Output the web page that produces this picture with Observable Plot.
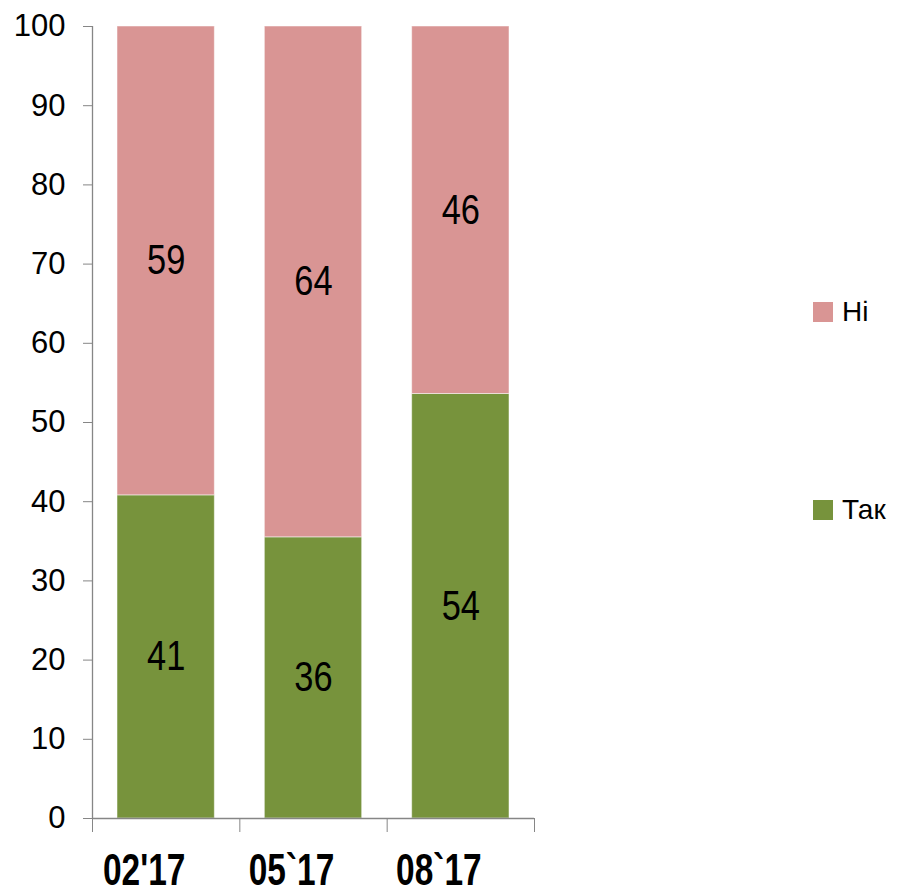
<!DOCTYPE html>
<html>
<head>
<meta charset="utf-8">
<script src="https://cdn.jsdelivr.net/npm/d3@7"></script>
<script src="https://cdn.jsdelivr.net/npm/@observablehq/plot@0.6"></script>
<style>
  html, body { margin: 0; padding: 0; background: #fff; }
  #wrap { position: relative; width: 897px; height: 895px; overflow: hidden; }
  .leg { position: absolute; display: flex; align-items: center; font-family: "Liberation Sans", Arial, sans-serif; font-size: 28px; color: #000; }
  .leg i { display: inline-block; width: 20px; height: 20px; margin-right: 9px; }
</style>
</head>
<body>
<div id="wrap"></div>
<script>
const categories = ["02'17", "05`17", "08`17"];
const seriesNames = ["Так", "Ні"];
const seriesColors = ["#77933C", "#D99594"];
const takValues = [40.8, 35.5, 53.6];
const niValues = [59.2, 64.5, 46.4];
const takLabels = ["41", "36", "54"];
const niLabels = ["59", "64", "46"];
const yTicks = [0, 10, 20, 30, 40, 50, 60, 70, 80, 90, 100];
const xBoundaries = [0, 1, 2, 3];

const rows = [];
categories.forEach((c, i) => {
  rows.push({i, cat: c, series: "Так", y1: 0, y2: takValues[i], label: takLabels[i]});
  rows.push({i, cat: c, series: "Ні", y1: takValues[i], y2: takValues[i] + niValues[i], label: niLabels[i]});
});

const font = "'Liberation Sans', Arial, sans-serif";
const axisGray = "#868686";

const chart = Plot.plot({
  width: 897,
  height: 895,
  marginLeft: 92,
  marginRight: 363,
  marginTop: 26,
  marginBottom: 77,
  style: {background: "#fff", fontFamily: font, color: "#000"},
  x: {type: "linear", domain: [0, 3]},
  y: {domain: [0, 100]},
  color: {domain: seriesNames, range: seriesColors},
  marks: [
    Plot.rect(rows, {
      x1: d => d.i, x2: d => d.i + 1, y1: "y1", y2: "y2",
      fill: "series", insetLeft: 25, insetRight: 25,
      stroke: "#fff", strokeOpacity: 0.5, strokeWidth: 1
    }),
    Plot.text(rows, {
      x: d => d.i + 0.5, y: d => (d.y1 + d.y2) / 2, text: "label",
      fontSize: 42, fontFamily: font, fill: "#000", className: "narrow-text"
    }),
    Plot.axisY({ticks: yTicks, tickSize: 9, tickPadding: 18, fontSize: 31, stroke: axisGray, fill: "#000", label: null}),
    Plot.ruleX([0], {stroke: axisGray, strokeWidth: 1.3}),
    Plot.ruleY([0], {stroke: axisGray, strokeWidth: 1.3}),
    Plot.axisX({ticks: xBoundaries, tickSize: 14, tickFormat: () => "", stroke: axisGray, label: null}),
    Plot.text(categories, {
      x: (d, i) => i + 0.5, frameAnchor: "bottom", lineAnchor: "middle", dy: 52, dx: -22,
      text: d => d, fontSize: 44, fontWeight: "bold", fontFamily: font, fill: "#000", className: "narrow-bold"
    })
  ]
});

const wrap = document.getElementById("wrap");
wrap.appendChild(chart);

// emulate a condensed (Arial Narrow–like) face by compressing glyphs horizontally
function condense(selector, factor) {
  chart.querySelectorAll(selector + " text").forEach(t => {
    const len = t.getComputedTextLength();
    t.setAttribute("textLength", (len * factor).toFixed(1));
    t.setAttribute("lengthAdjust", "spacingAndGlyphs");
  });
}
condense(".narrow-text", 0.82);
condense(".narrow-bold", 0.76);

const legendItems = [
  {name: seriesNames[1], color: seriesColors[1], top: 296},
  {name: seriesNames[0], color: seriesColors[0], top: 494}
];
legendItems.forEach(it => {
  const d = document.createElement("div");
  d.className = "leg";
  d.style.left = "813px";
  d.style.top = it.top + "px";
  d.innerHTML = `<i style="background:${it.color}"></i><span>${it.name}</span>`;
  wrap.appendChild(d);
});
</script>
</body>
</html>
